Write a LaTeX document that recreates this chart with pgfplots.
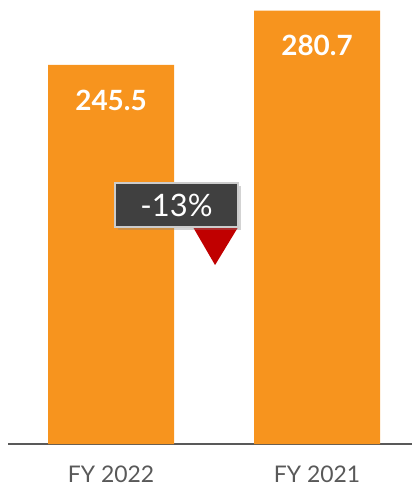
\documentclass[border=0pt]{standalone}
\usepackage{pgfplots}
\pgfplotsset{compat=1.18}
\usepackage{fontspec}
\setmainfont{Lato}
\usetikzlibrary{shadows}
\definecolor{barorange}{RGB}{247,148,30}
\definecolor{boxgray}{RGB}{64,64,64}
\definecolor{axgray}{RGB}{89,89,89}
\definecolor{downred}{RGB}{192,0,0}
\begin{document}
\begin{tikzpicture}
\useasboundingbox (0,0) rectangle (412bp,486bp);
\begin{axis}[
  at={(8bp,42bp)}, anchor=south west,
  scale only axis, width=404bp, height=444bp,
  xmin=-0.5, xmax=1.461, ymin=0, ymax=287.6,
  axis x line*=bottom, axis y line=none,
  x axis line style={draw=axgray, line width=1.4bp},
  xtick={0,1}, xticklabels={FY 2022, FY 2021},
  xtick style={draw=none},
  xticklabel style={anchor=base, inner sep=0pt, yshift=-34bp, text=axgray, font=\fontsize{23}{23}\selectfont},
  ybar, bar width=126bp,
  clip=false,
  nodes near coords,
  every node near coord/.append style={anchor=center, yshift=-35bp, text=white, font=\bfseries\fontsize{28}{28}\selectfont},
  nodes near coords style={/pgf/number format/.cd, fixed, fixed zerofill, precision=1, assume math mode=true},
]
\addplot[fill=barorange, draw=none] coordinates {(0,245.5) (1,280.7)};
\fill[downred] (axis cs:0.398,140.5) -- (axis cs:0.617,140.5) -- (axis cs:0.505,115.9) -- cycle;
\draw[draw=white!80!black, line width=1.5bp, fill=boxgray, drop shadow={shadow xshift=3bp, shadow yshift=-3bp, opacity=0.35}]
  (axis cs:0.019,140.5) rectangle (axis cs:0.617,169.0);
\node[text=white, font=\fontsize{31}{31}\selectfont] at (axis cs:0.318,154.7) {-13\%};
\end{axis}
\end{tikzpicture}
\end{document}
